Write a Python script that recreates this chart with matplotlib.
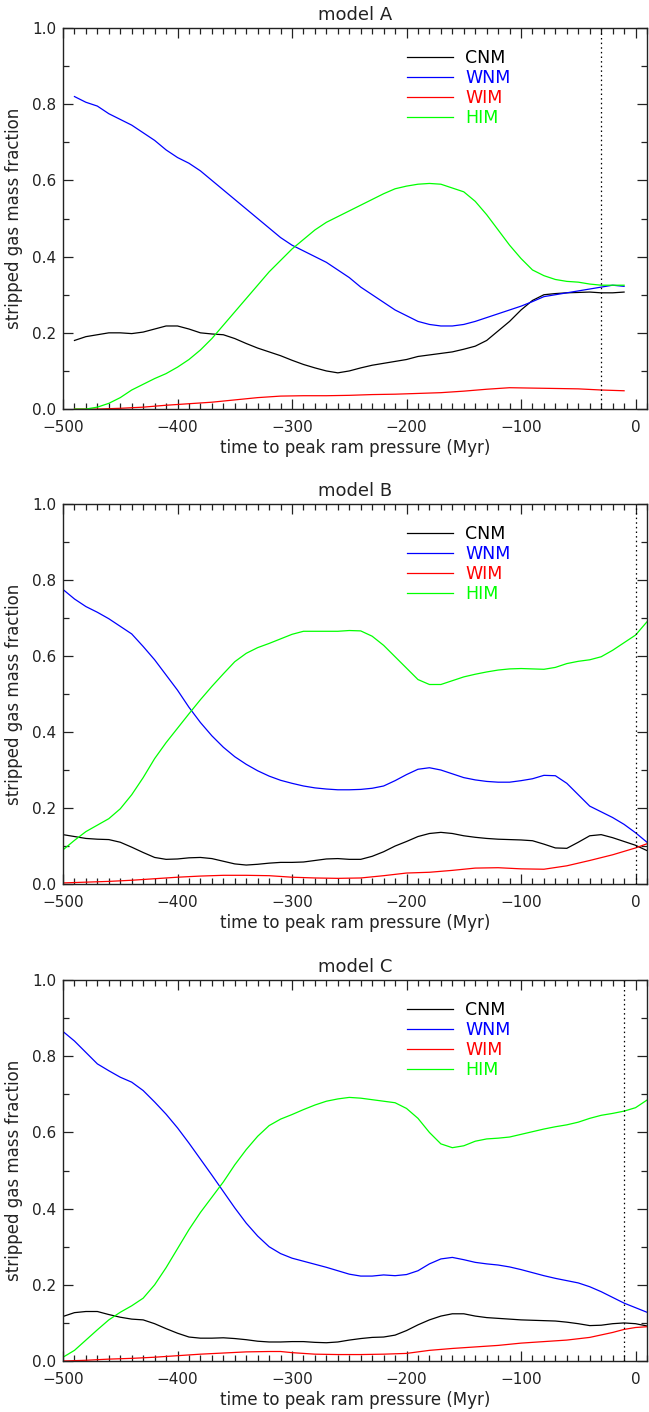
import numpy as np
import matplotlib
matplotlib.use('Agg')
import matplotlib.pyplot as plt
from matplotlib.ticker import MultipleLocator

plt.rcParams['font.family'] = ['DejaVu Sans']

phases = ['CNM', 'WNM', 'WIM', 'HIM']
colors = ['black', '#0000ff', '#ff0000', '#00ff00']
titles = ['model A', 'model B', 'model C']
peak_marker = [-30, 0, -10]   # dotted vertical line per model

# ---- model A (sampled every 10 Myr, -490 .. -10)
time_a = np.arange(-490, 0, 10)
cnm_a = [0.180, 0.190, 0.195, 0.200, 0.200, 0.198, 0.202, 0.210, 0.218, 0.218,
         0.210, 0.200, 0.197, 0.195, 0.185, 0.172, 0.160, 0.150, 0.140, 0.128,
         0.117, 0.108, 0.100, 0.095, 0.100, 0.108, 0.115, 0.120, 0.125, 0.130,
         0.138, 0.142, 0.146, 0.150, 0.157, 0.165, 0.180, 0.205, 0.230, 0.260,
         0.285, 0.300, 0.303, 0.305, 0.306, 0.307, 0.305, 0.305, 0.307]
wnm_a = [0.820, 0.805, 0.795, 0.775, 0.760, 0.745, 0.725, 0.705, 0.680, 0.660,
         0.645, 0.625, 0.600, 0.575, 0.550, 0.525, 0.500, 0.475, 0.450, 0.430,
         0.415, 0.400, 0.385, 0.365, 0.345, 0.320, 0.300, 0.280, 0.260, 0.245,
         0.230, 0.222, 0.218, 0.218, 0.222, 0.230, 0.240, 0.250, 0.260, 0.270,
         0.282, 0.295, 0.300, 0.305, 0.310, 0.315, 0.320, 0.325, 0.322]
him_a = [0.000, 0.000, 0.005, 0.015, 0.030, 0.050, 0.065, 0.080, 0.093, 0.110,
         0.130, 0.155, 0.185, 0.220, 0.255, 0.290, 0.325, 0.360, 0.390, 0.420,
         0.445, 0.470, 0.490, 0.505, 0.520, 0.535, 0.550, 0.565, 0.578, 0.585,
         0.590, 0.592, 0.590, 0.580, 0.570, 0.545, 0.510, 0.470, 0.430, 0.395,
         0.365, 0.350, 0.340, 0.335, 0.333, 0.328, 0.325, 0.325, 0.325]
time_a_wim = np.arange(-490, 0, 20)
wim_a = [0.000, 0.000, 0.002, 0.005, 0.010, 0.014, 0.018, 0.024, 0.030, 0.034,
         0.035, 0.035, 0.036, 0.038, 0.039, 0.041, 0.043, 0.047, 0.052, 0.056,
         0.055, 0.054, 0.053, 0.050, 0.048]

# ---- model B (every 10 Myr, -500 .. 10)
time_b = np.arange(-500, 11, 10)
cnm_b = [0.130, 0.125, 0.120, 0.118, 0.117, 0.110, 0.097, 0.083, 0.070, 0.065,
         0.066, 0.069, 0.070, 0.067, 0.060, 0.053, 0.050, 0.052, 0.055, 0.057,
         0.057, 0.058, 0.062, 0.066, 0.067, 0.065, 0.065, 0.073, 0.085, 0.100,
         0.112, 0.125, 0.133, 0.136, 0.133, 0.127, 0.123, 0.120, 0.118, 0.117,
         0.116, 0.114, 0.105, 0.095, 0.094, 0.110, 0.127, 0.130, 0.122, 0.112,
         0.102, 0.088]
wnm_b = [0.775, 0.750, 0.730, 0.715, 0.698, 0.678, 0.658, 0.625, 0.590, 0.550,
         0.510, 0.465, 0.425, 0.390, 0.360, 0.335, 0.315, 0.298, 0.284, 0.273,
         0.265, 0.258, 0.253, 0.250, 0.248, 0.248, 0.249, 0.252, 0.258, 0.272,
         0.288, 0.302, 0.306, 0.300, 0.290, 0.280, 0.274, 0.270, 0.268, 0.268,
         0.272, 0.277, 0.286, 0.285, 0.265, 0.235, 0.205, 0.190, 0.175, 0.157,
         0.135, 0.110]
him_b = [0.090, 0.115, 0.138, 0.155, 0.172, 0.198, 0.235, 0.280, 0.330, 0.372,
         0.410, 0.448, 0.485, 0.520, 0.553, 0.585, 0.607, 0.622, 0.633, 0.645,
         0.657, 0.665, 0.665, 0.665, 0.665, 0.667, 0.666, 0.652, 0.628, 0.598,
         0.568, 0.538, 0.525, 0.525, 0.535, 0.545, 0.552, 0.558, 0.563, 0.566,
         0.567, 0.566, 0.565, 0.570, 0.580, 0.586, 0.590, 0.598, 0.615, 0.635,
         0.655, 0.690]
time_b_wim = [-500, -480, -460, -440, -420, -400, -380, -360, -340, -320, -300,
              -280, -260, -240, -220, -200, -180, -160, -140, -120, -100, -80,
              -60, -40, -20, 0, 10]
wim_b = [0.003, 0.005, 0.007, 0.010, 0.014, 0.018, 0.021, 0.023, 0.023, 0.022,
         0.018, 0.016, 0.015, 0.016, 0.022, 0.029, 0.031, 0.036, 0.042, 0.043,
         0.040, 0.039, 0.048, 0.062, 0.077, 0.095, 0.106]

# ---- model C (every 10 Myr, -500 .. 10)
time_c = np.arange(-500, 11, 10)
cnm_c = [0.117, 0.127, 0.130, 0.130, 0.122, 0.115, 0.110, 0.108, 0.098, 0.085,
         0.073, 0.063, 0.060, 0.060, 0.061, 0.059, 0.056, 0.052, 0.050, 0.050,
         0.051, 0.051, 0.049, 0.048, 0.050, 0.055, 0.059, 0.062, 0.063, 0.068,
         0.080, 0.095, 0.108, 0.118, 0.124, 0.124, 0.118, 0.114, 0.112, 0.110,
         0.108, 0.107, 0.106, 0.105, 0.102, 0.098, 0.093, 0.094, 0.098, 0.100,
         0.098, 0.092]
wnm_c = [0.865, 0.840, 0.810, 0.780, 0.762, 0.745, 0.732, 0.710, 0.680, 0.648,
         0.612, 0.572, 0.530, 0.488, 0.445, 0.402, 0.362, 0.328, 0.300, 0.282,
         0.270, 0.262, 0.254, 0.246, 0.237, 0.228, 0.223, 0.223, 0.226, 0.224,
         0.227, 0.237, 0.255, 0.268, 0.272, 0.266, 0.259, 0.255, 0.252, 0.247,
         0.240, 0.232, 0.224, 0.217, 0.211, 0.205, 0.195, 0.182, 0.167, 0.152,
         0.140, 0.128]
him_c = [0.010, 0.028, 0.055, 0.082, 0.108, 0.128, 0.145, 0.165, 0.200, 0.245,
         0.295, 0.345, 0.390, 0.430, 0.470, 0.515, 0.555, 0.590, 0.618, 0.635,
         0.647, 0.660, 0.672, 0.682, 0.688, 0.692, 0.690, 0.686, 0.682, 0.678,
         0.663, 0.637, 0.600, 0.570, 0.560, 0.565, 0.577, 0.583, 0.585, 0.588,
         0.595, 0.602, 0.609, 0.615, 0.620, 0.627, 0.637, 0.645, 0.650, 0.656,
         0.665, 0.685]
time_c_wim = [-500, -480, -460, -440, -420, -400, -380, -360, -340, -320, -310,
              -300, -280, -260, -240, -220, -200, -180, -160, -140, -120, -100,
              -80, -60, -40, -20, -10, 0, 10]
wim_c = [0.000, 0.002, 0.005, 0.007, 0.010, 0.014, 0.018, 0.021, 0.024, 0.025,
         0.025, 0.022, 0.018, 0.017, 0.017, 0.018, 0.020, 0.028, 0.033, 0.037,
         0.041, 0.047, 0.051, 0.055, 0.062, 0.075, 0.083, 0.088, 0.090]

models = [
    [(time_a, cnm_a), (time_a, wnm_a), (time_a_wim, wim_a), (time_a, him_a)],
    [(time_b, cnm_b), (time_b, wnm_b), (time_b_wim, wim_b), (time_b, him_b)],
    [(time_c, cnm_c), (time_c, wnm_c), (time_c_wim, wim_c), (time_c, him_c)],
]

fig = plt.figure(figsize=(6.49, 14.12), dpi=100)
rects = [[0.0971, 0.7103, 0.8998, 0.2699],
         [0.0971, 0.3739, 0.8998, 0.2692],
         [0.0971, 0.0361, 0.8998, 0.2698]]

axis_col = '#222222'
for k in range(3):
    ax = fig.add_axes(rects[k])
    for (t, v), name, col in zip(models[k], phases, colors):
        ax.plot(t, v, color=col, lw=0.9, label=name)
    ax.axvline(peak_marker[k], color='black', lw=0.9, ls=(0, (1.2, 2.5)))

    ax.set_xlim(-500, 10)
    ax.set_ylim(0, 1.0)
    ax.xaxis.set_major_locator(MultipleLocator(100))
    ax.xaxis.set_minor_locator(MultipleLocator(10))
    ax.yaxis.set_major_locator(MultipleLocator(0.2))
    ax.yaxis.set_minor_locator(MultipleLocator(0.1))
    ax.yaxis.set_major_formatter(plt.FormatStrFormatter('%.1f'))
    ax.tick_params(which='both', direction='in', top=True, right=True,
                   colors=axis_col, labelcolor='#222222', labelsize=11)
    ax.tick_params(which='major', length=7, width=0.9)
    ax.tick_params(which='minor', length=4, width=0.9)
    ax.tick_params(axis='x', which='major', pad=8)
    ax.tick_params(axis='y', which='major', pad=5)
    for sp in ax.spines.values():
        sp.set_color(axis_col)
        sp.set_linewidth(1.0)

    ax.set_title(titles[k], fontsize=13, color='#222222', pad=6)
    ax.set_xlabel('time to peak ram pressure (Myr)', fontsize=12,
                  color='#222222', labelpad=3)
    ax.set_ylabel('stripped gas mass fraction', fontsize=12,
                  color='#222222', labelpad=6)

    ax.legend(loc='upper left', bbox_to_anchor=(0.589, 0.945), frameon=False,
              fontsize=12.5, labelcolor='linecolor', handlelength=2.65,
              handletextpad=0.7, labelspacing=0.12, borderpad=0,
              borderaxespad=0)

fig.savefig('out.png', dpi=100)
